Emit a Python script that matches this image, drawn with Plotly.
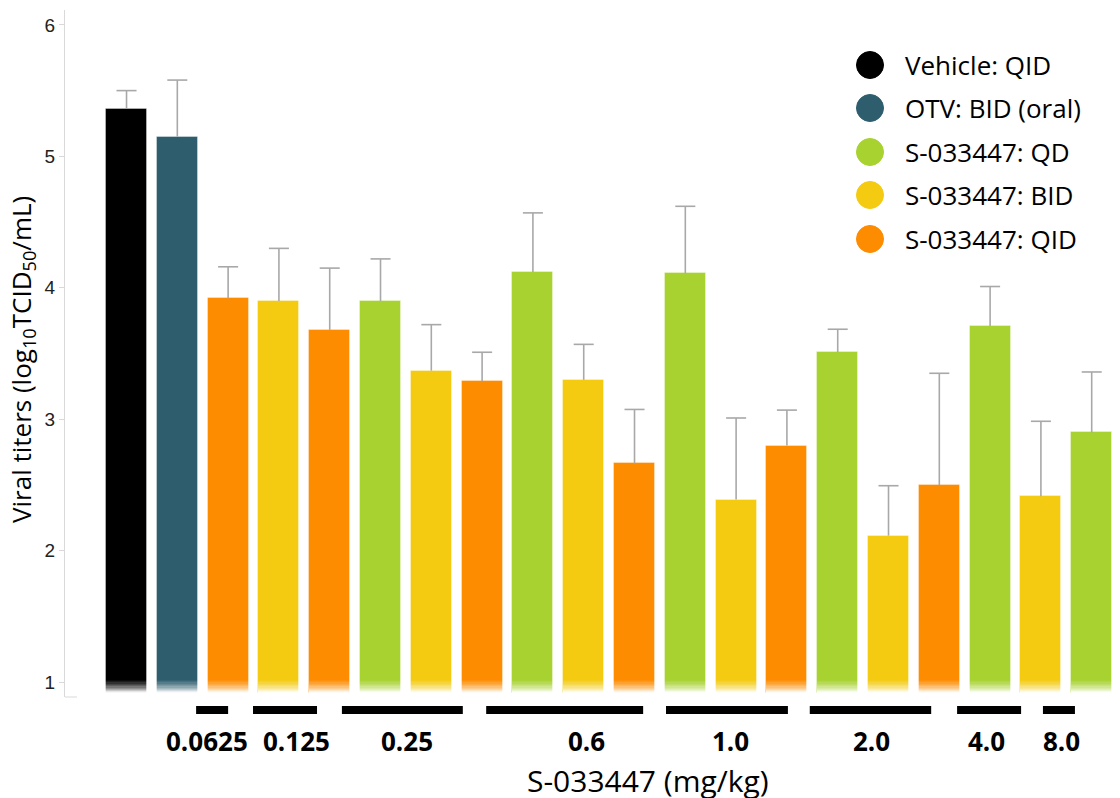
import plotly.graph_objects as go

# ---------------- data ----------------
series_names = ["Vehicle: QID", "OTV: BID (oral)", "S-033447: QD", "S-033447: BID", "S-033447: QID"]
series_colors = ["#000000", "#2e5e6e", "#a7d22f", "#f4cb10", "#fe8c00"]

bar_series = ["Vehicle: QID", "OTV: BID (oral)",
              "S-033447: QID",
              "S-033447: BID", "S-033447: QID",
              "S-033447: QD", "S-033447: BID", "S-033447: QID",
              "S-033447: QD", "S-033447: BID", "S-033447: QID",
              "S-033447: QD", "S-033447: BID", "S-033447: QID",
              "S-033447: QD", "S-033447: BID", "S-033447: QID",
              "S-033447: QD", "S-033447: BID",
              "S-033447: QD"]
bar_dose = ["", "", "0.0625", "0.125", "0.125", "0.25", "0.25", "0.25", "0.6", "0.6", "0.6",
            "1.0", "1.0", "1.0", "2.0", "2.0", "2.0", "4.0", "4.0", "8.0"]
titer_mean = [5.36, 5.15, 3.92, 3.90, 3.68, 3.90, 3.37, 3.29, 4.12, 3.30, 2.665,
              4.11, 2.39, 2.80, 3.51, 2.115, 2.50, 3.71, 2.415, 2.90]
titer_sd = [0.14, 0.43, 0.24, 0.40, 0.47, 0.32, 0.35, 0.22, 0.45, 0.27, 0.41,
            0.51, 0.62, 0.27, 0.175, 0.38, 0.85, 0.30, 0.57, 0.46]
dose_labels = ["0.0625", "0.125", "0.25", "0.6", "1.0", "2.0", "4.0", "8.0"]
y_ticks = [1, 2, 3, 4, 5, 6]

# ---------------- layout constants ----------------
W, H = 1120, 798          # window size
BODY = 8                  # default page margin around the plot div
ML, MR, MT, MB = 65, 0, 10, 101   # plot-area edges in window pixels
PW, PH = W - ML - MR, H - MT - MB
BAR_BASE = 0.92
BAR_W = 0.81
CAP_HALF = 0.197          # half width of error-bar caps, in bar-index units
# bracket spans / label centers in bar-index units (follow the reference's drawing)
bracket_spans = [(1.37, 2.0), (2.49, 3.75), (4.24, 6.62), (7.08, 10.17),
                 (10.62, 13.02), (13.45, 15.84), (16.35, 17.61), (18.04, 18.67)]
label_centers = [1.585, 3.35, 5.52, 9.06, 11.88, 14.67, 16.93, 18.41]


def px(x):
    return (x - ML) / PW


def py(y):
    return (H - MB - y) / PH


FONT = "Open Sans"
fig = go.Figure()

idx = list(range(len(titer_mean)))
for name, color in zip(series_names, series_colors):
    sel = [i for i in idx if bar_series[i] == name]
    fig.add_trace(go.Bar(
        x=sel,
        y=[titer_mean[i] - BAR_BASE for i in sel],
        base=BAR_BASE,
        width=BAR_W,
        name=name,
        marker=dict(color=color, line=dict(color="rgba(255,255,255,0.35)", width=1)),
        showlegend=False,
    ))

# bottom fade of the bars
n_fade = 10
for k in range(n_fade):
    lvl = BAR_BASE + k * 0.01
    a = 0.9 * (1 - k / n_fade) ** 1.3
    fig.add_trace(go.Bar(x=idx, y=[0.01] * len(idx), base=lvl, width=BAR_W + 0.02,
                         marker=dict(color=f"rgba(255,255,255,{a:.3f})", line=dict(width=0)),
                         showlegend=False, hoverinfo="skip"))

# upper-only error bars (stem + cap) built from mean and sd
ex, ey = [], []
for i in idx:
    top = titer_mean[i] + titer_sd[i]
    ex += [i, i, None, i - CAP_HALF, i + CAP_HALF, None]
    ey += [titer_mean[i], top, None, top, top, None]
fig.add_trace(go.Scatter(x=ex, y=ey, mode="lines", line=dict(color="#a8a8a8", width=1.6),
                         showlegend=False, hoverinfo="skip"))

shapes = []
annotations = []

# dose brackets and labels
for (a, b), lab, c in zip(bracket_spans, dose_labels, label_centers):
    shapes.append(dict(type="line", xref="x", yref="paper", x0=a, x1=b,
                       y0=py(710), y1=py(710), line=dict(color="black", width=8)))
    annotations.append(dict(x=c, y=py(741), xref="x", yref="paper", text=f"<b>{lab}</b>",
                            showarrow=False, xanchor="center", yanchor="middle",
                            font=dict(family=FONT, size=26, color="black")))

# axis titles
annotations.append(dict(x=px(648), y=py(780), xref="paper", yref="paper",
                        text="S-033447 (mg/kg)", showarrow=False,
                        xanchor="center", yanchor="middle",
                        font=dict(family=FONT, size=30, color="black")))
annotations.append(dict(x=px(22), y=py(360), xref="paper", yref="paper",
                        text="Viral titers (log<sub>10</sub>TCID<sub>50</sub>/mL)",
                        showarrow=False, textangle=-90,
                        xanchor="center", yanchor="middle",
                        font=dict(family=FONT, size=26, color="black")))

# small foot at bottom of the y axis
shapes.append(dict(type="line", xref="paper", yref="paper", x0=0, x1=px(77), y0=0, y1=0,
                   line=dict(color="#d9d9d9", width=1)))

# legend (circles + labels)
leg_y = [65, 108, 152, 195, 239]
r = 13.5
for name, color, yy in zip(series_names, series_colors, leg_y):
    shapes.append(dict(type="circle", xref="paper", yref="paper",
                       x0=px(870 - r), x1=px(870 + r), y0=py(yy + r), y1=py(yy - r),
                       fillcolor=color, line=dict(color=color, width=1)))
    annotations.append(dict(x=px(903), y=py(yy), xref="paper", yref="paper", text=name,
                            showarrow=False, xanchor="left", yanchor="middle",
                            font=dict(family=FONT, size=26, color="black")))

fig.update_layout(
    width=W - BODY, height=H - BODY,
    margin=dict(l=ML - BODY, r=MR, t=MT - BODY, b=MB, pad=0),
    paper_bgcolor="white", plot_bgcolor="white",
    barmode="overlay", bargap=0,
    showlegend=False,
    xaxis=dict(range=[-1.211, 19.557], showticklabels=False, showgrid=False,
               zeroline=False, showline=False, ticks=""),
    yaxis=dict(range=[0.888, 6.113], tickvals=y_ticks, showgrid=False, zeroline=False,
               showline=True, linecolor="#d9d9d9", linewidth=1,
               ticks="outside", ticklen=5, tickcolor="#d9d9d9",
               tickfont=dict(family="Liberation Sans", size=19, color="#222222")),
    shapes=shapes,
    annotations=annotations,
)

fig.write_html("out.html")
